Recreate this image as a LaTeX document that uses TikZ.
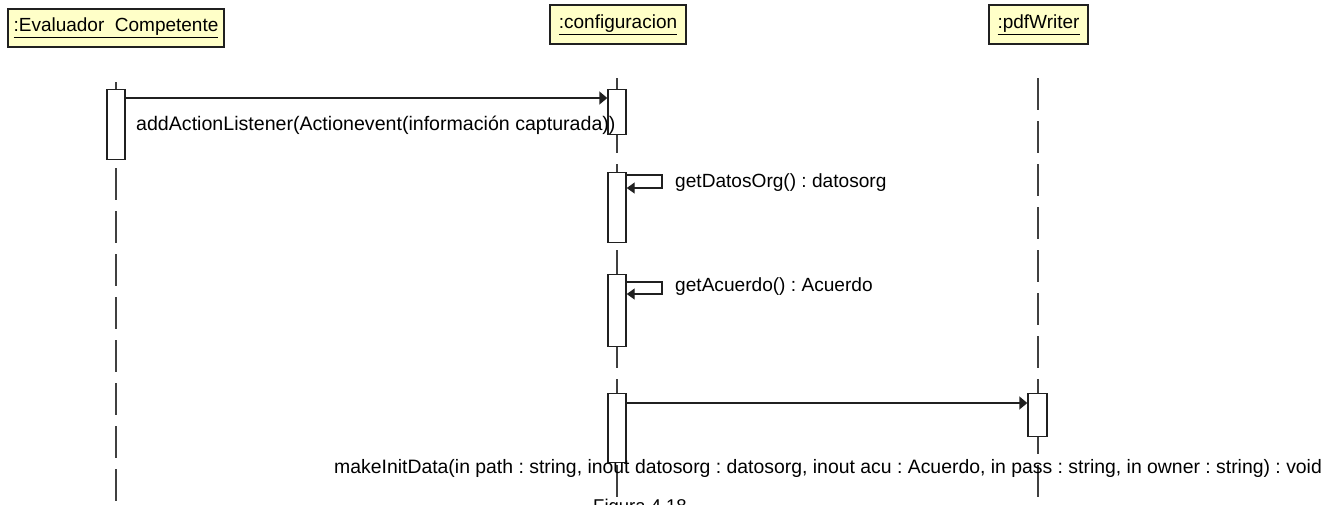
\documentclass[tikz,border=0pt]{standalone}
\usepackage{fontspec}
\setmainfont{Liberation Sans}
\usetikzlibrary{arrows.meta}
\definecolor{headfill}{HTML}{FFFFC8}
\definecolor{ink}{HTML}{202020}
\definecolor{lifegray}{HTML}{404040}
\frenchspacing
\begin{document}
\begin{tikzpicture}[x=1pt,y=-1pt,
  head/.style={draw=ink, line width=1.6pt, fill=headfill, inner sep=0pt,
    font=\fontsize{19}{22}\selectfont},
  lifeline/.style={draw=lifegray, line width=1.8pt, dash pattern=on 32pt off 11pt},
  actbox/.style={draw=ink, line width=1.4pt, fill=white, minimum width=18pt,
    inner sep=0pt, anchor=north},
  msg/.style={draw=ink, line width=1.4pt, -{Triangle[length=8pt,width=13pt]}},
  selfmsg/.style={draw=ink, line width=1.4pt, -{Triangle[length=8pt,width=11pt]}},
  lbl/.style={anchor=west, inner sep=0pt, font=\fontsize{19.6}{22}\selectfont},
]
\useasboundingbox (0,0) rectangle (1340,504);
\clip (0,0) rectangle (1340,504);

% object heads
\node[head, minimum width=216pt, minimum height=38pt] (ev) at (116,28) {\underline{:Evaluador\ \ Competente}};
\node[head, minimum width=136pt, minimum height=39pt] (cf) at (618,24.5) {\underline{:configuracion}};
\node[head, minimum width=99pt, minimum height=39pt] (pw) at (1038.5,24.5) {\underline{:pdfWriter}};

% lifelines
\coordinate (evTop) at (116,82);   \coordinate (evEnd) at (116,504);
\coordinate (cfTop) at (617,78);   \coordinate (cfEnd) at (617,504);
\coordinate (pwTop) at (1038,78);  \coordinate (pwEnd) at (1038,504);
\draw[lifeline] (evTop) -- (evEnd);
\draw[lifeline] (cfTop) -- (cfEnd);
\draw[lifeline] (pwTop) -- (pwEnd);

% activation bars
\node[actbox, minimum height=70pt] (ea) at (116,89) {};
\node[actbox, minimum height=45pt] (c1) at (617,89) {};
\node[actbox, minimum height=70pt] (c2) at (617,172) {};
\node[actbox, minimum height=72pt] (c3) at (617,274) {};
\node[actbox, minimum height=69pt] (c4) at (617,393) {};
\node[actbox, minimum width=19pt, minimum height=43pt] (p1) at (1037.5,393) {};

% messages
\coordinate (m1) at (0,98);
\draw[msg] (ea.east |- m1) -- (c1.west |- m1);

\coordinate (s1t) at (662,175); \coordinate (s1b) at (662,188);
\draw[selfmsg] (c2.east |- s1t) -- (s1t) -- (s1b) -- (c2.east |- s1b);

\coordinate (s2t) at (662,282); \coordinate (s2b) at (662,294);
\draw[selfmsg] (c3.east |- s2t) -- (s2t) -- (s2b) -- (c3.east |- s2b);

\coordinate (m4) at (0,403);
\draw[msg] (c4.east |- m4) -- (p1.west |- m4);

% message labels
\node[lbl] (l1) at (136,125) {addActionListener(Actionevent(información capturada))};
\node[lbl, font=\fontsize{19.1}{22}\selectfont] (l2) at (675,183) {getDatosOrg() : datosorg};
\node[lbl, font=\fontsize{19.1}{22}\selectfont] (l3) at (675,287) {getAcuerdo() : Acuerdo};
\node[lbl, font=\fontsize{19.4}{22}\selectfont] (l4) at (334,468) {makeInitData(in path : string, inout datosorg : datosorg, inout acu : Acuerdo, in pass : string, in owner : string) : void};

% caption, running off the lower edge
\node[anchor=north west, inner sep=0pt, font=\fontsize{18.5}{22}\selectfont] (fig) at (593,499) {Figura 4.18};
\end{tikzpicture}
\end{document}
